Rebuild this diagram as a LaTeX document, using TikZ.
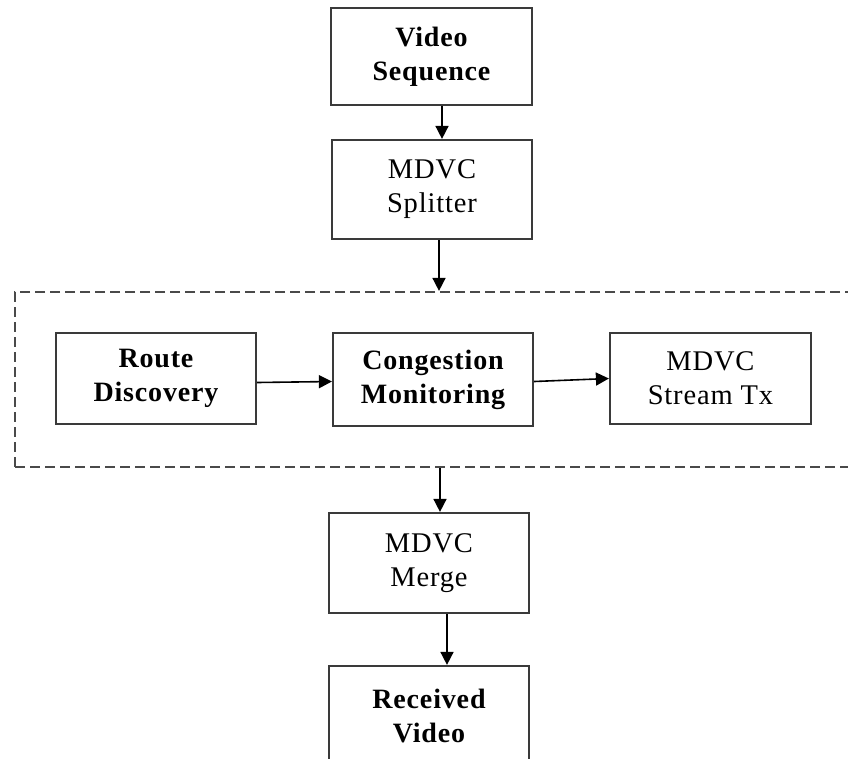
\documentclass[tikz,border=0pt]{standalone}
\usepackage{fontspec}
\setmainfont{Liberation Serif}[LetterSpace=3]
\usetikzlibrary{arrows.meta}
\definecolor{boxline}{HTML}{3A3A3A}
\definecolor{dashline}{HTML}{4A4A4A}
\tikzset{
  blk/.style={draw=boxline, line width=2.2pt, fill=white, rectangle, align=center,
    inner sep=0pt, font=\fontsize{28.5}{34}\selectfont},
  bblk/.style={blk, font=\fontsize{28}{34}\selectfont\bfseries},
  grpbox/.style={draw=dashline, line width=2.2pt, dash pattern=on 10pt off 5pt, rectangle, inner sep=0pt},
  arr/.style={line width=1.6pt, -{Triangle[length=13pt,width=13pt]}}
}
\begin{document}
\begin{tikzpicture}[x=1pt,y=-1pt]
\useasboundingbox (0,0) rectangle (848,758);
\node[grpbox, minimum width=865pt, minimum height=175pt] (grp) at (447.5,379.5) {};
\node[bblk, minimum width=201pt, minimum height=97pt] (video) at (431.5,56.5) {Video\\Sequence};
\node[blk, minimum width=200pt, minimum height=99pt] (split) at (432,189.5) {MDVC\\Splitter};
\node[bblk, minimum width=200pt, minimum height=91pt] (route) at (156,378.5) {Route\\Discovery};
\node[bblk, minimum width=200pt, minimum height=93pt] (cong) at (433,379.5) {Congestion\\Monitoring};
\node[blk, minimum width=201pt, minimum height=91pt] (stream) at (710.5,378.5) {MDVC\\Stream Tx};
\node[blk, minimum width=200pt, minimum height=100pt] (merge) at (429,563) {MDVC\\Merge};
\node[bblk, minimum width=200pt, minimum height=100pt] (recv) at (429,716) {Received\\Video};
\draw[arr] ([xshift=10.5pt]video.south) -- ([xshift=10.5pt]video.south |- split.north);
\draw[arr] ([xshift=7pt]split.south) -- ([xshift=7pt]split.south |- grp.north);
\draw[arr] ([xshift=11pt]merge.north |- grp.south) -- ([xshift=11pt]merge.north);
\draw[arr] ([xshift=18pt]merge.south) -- ([xshift=18pt]merge.south |- recv.north);
\draw[arr] ([yshift=-4pt]route.east) -- ([yshift=-2pt]cong.west);
\draw[arr] ([yshift=-2pt]cong.east) -- (stream.west);
\end{tikzpicture}
\end{document}
